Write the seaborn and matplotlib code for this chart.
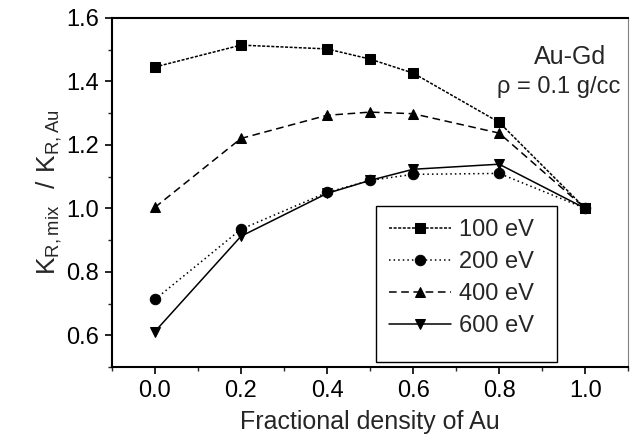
import matplotlib
matplotlib.use("Agg")
import matplotlib.pyplot as plt
from matplotlib.patches import Rectangle
import seaborn as sns
from matplotlib.ticker import MultipleLocator

# Fractional density of Au vs K_R ratio, Au-Gd mixture at 0.1 g/cc
frac_au = [0.0, 0.2, 0.4, 0.5, 0.6, 0.8, 1.0]
k_100ev = [1.445, 1.514, 1.502, 1.470, 1.426, 1.271, 1.0]
k_200ev = [0.713, 0.934, 1.050, 1.088, 1.107, 1.110, 1.0]
k_400ev = [1.003, 1.220, 1.293, 1.303, 1.298, 1.237, 1.0]
k_600ev = [0.612, 0.912, 1.047, 1.088, 1.123, 1.139, 1.0]
labels = ["100 eV", "200 eV", "400 eV", "600 eV"]

sns.set_style("ticks")
plt.rcParams["font.family"] = ["Liberation Sans", "DejaVu Sans"]
plt.rcParams["mathtext.fontset"] = "custom"
plt.rcParams["mathtext.rm"] = "Liberation Sans"

fig = plt.figure(figsize=(6.32, 4.45), dpi=100)
ax = fig.add_axes([0.177, 0.175, 0.817, 0.785])

series = [k_100ev, k_200ev, k_400ev, k_600ev]
markers = ["s", "o", "^", "v"]
styles = [(0, (2, 1)), (0, (1, 2)), (0, (5, 3)), "-"]
for vals, lab, mk, ls in zip(series, labels, markers, styles):
    sns.lineplot(x=frac_au, y=vals, ax=ax, color="black", marker=mk,
                 markersize=7.5, markeredgecolor="black", linestyle=ls,
                 linewidth=1.1, label=lab)

ax.set_xlim(-0.1, 1.1)
ax.set_ylim(0.5, 1.6)
ax.xaxis.set_major_locator(MultipleLocator(0.2))
ax.xaxis.set_minor_locator(MultipleLocator(0.1))
ax.yaxis.set_minor_locator(MultipleLocator(0.1))
ax.set_yticks([0.6, 0.8, 1.0, 1.2, 1.4, 1.6])
ax.tick_params(which="major", direction="out", length=5, width=1.2,
               labelsize=17, colors="black", pad=4)
ax.tick_params(which="minor", direction="out", length=3, width=1.0)

for side in ["left", "bottom", "top"]:
    ax.spines[side].set_linewidth(1.5)
    ax.spines[side].set_color("black")
ax.spines["right"].set_linewidth(0.8)
ax.spines["right"].set_color("0.5")

ax.set_xlabel("Fractional density of Au", fontsize=18, labelpad=6)
ax.set_ylabel(r"$\mathregular{K_{R,mix}\ \ /\ K_{R,Au}}$", fontsize=19, labelpad=2)

ax.text(0.888, 0.887, "Au-Gd", transform=ax.transAxes, fontsize=18,
        ha="center", va="center")
ax.text(0.866, 0.801, "ρ = 0.1 g/cc", transform=ax.transAxes, fontsize=17,
        ha="center", va="center")

# legend box is taller than its entries, so draw the frame separately
ax.add_patch(Rectangle((0.512, 0.014), 0.35, 0.447, transform=ax.transAxes,
                       facecolor="white", edgecolor="black", linewidth=1.0,
                       zorder=4))
leg = ax.legend(loc="upper left", bbox_to_anchor=(0.512, 0.461),
                fontsize=17, handlelength=2.6, handletextpad=0.35,
                borderpad=0.55, labelspacing=0.42, frameon=False,
                borderaxespad=0)
leg.set_zorder(5)

fig.savefig("out.png", dpi=100)
